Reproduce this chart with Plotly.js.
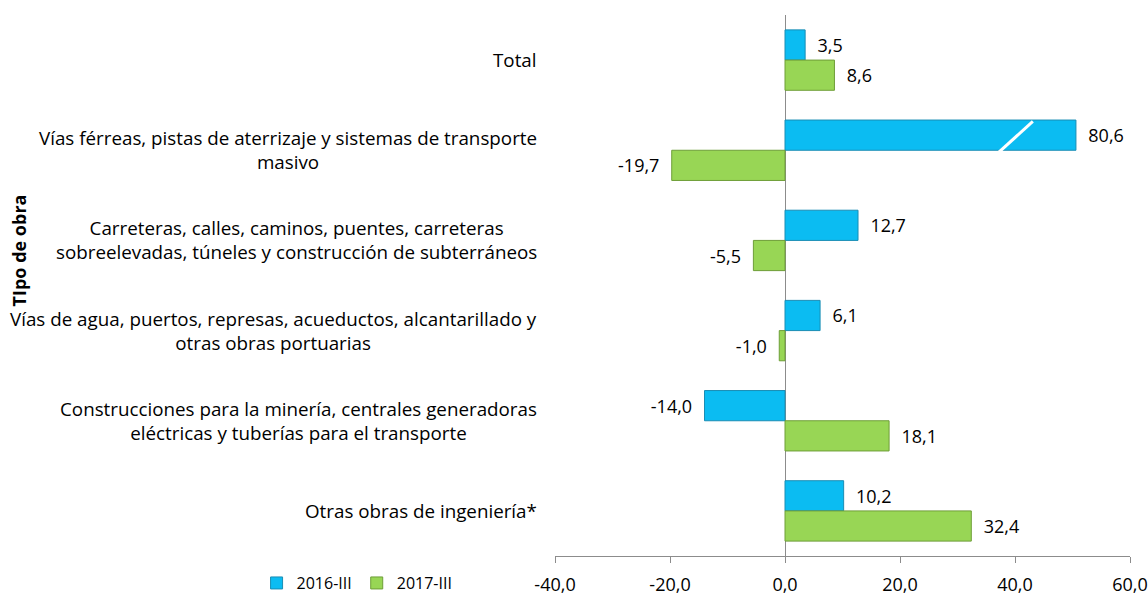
<!DOCTYPE html>
<html><head><meta charset="utf-8">
<script src="https://cdn.plot.ly/plotly-3.0.1.min.js"></script>
<style>body{margin:0;background:#fff}#chart{width:1148px;height:598px}</style>
</head><body><div id="chart"></div>
<script>
var categories = [
  'Total',
  'Vías férreas, pistas de aterrizaje y sistemas de transporte<br>masivo',
  'Carreteras, calles, caminos, puentes, carreteras<br>sobreelevadas, túneles y construcción de subterráneos',
  'Vías de agua, puertos, represas, acueductos, alcantarillado y<br>otras obras portuarias',
  'Construcciones para la minería, centrales generadoras<br>eléctricas y tuberías para el transporte',
  'Otras obras de ingeniería*'
];
var series2016 = [3.5, 80.6, 12.7, 6.1, -14.0, 10.2];
var series2017 = [8.6, -19.7, -5.5, -1.0, 18.1, 32.4];
var seriesNames = ['2016-III', '2017-III'];
var tickValues = [-40, -20, 0, 20, 40, 60];
var tickLabels = ['-40,0', '-20,0', '0,0', '20,0', '40,0', '60,0'];
var axisBreakStart = 55;   // values above this are drawn with a broken axis
var axisBreakGap = 30;     // amount removed by the break

function shown(v){ return v > axisBreakStart ? v - axisBreakGap : v; }
function lbl(v){
  var s = v.toFixed(1).replace('.', ',');
  return v < 0 ? s + '\u00a0\u00a0' : '\u00a0\u00a0' + s;
}
var ids = categories.map(function(c, i){ return 'c' + i; });

var font = '"Open Sans", sans-serif';
var fs = 18;
var t1 = {
  type: 'bar', orientation: 'h', name: seriesNames[0],
  y: ids, x: series2016.map(shown),
  text: series2016.map(lbl), textposition: 'outside', cliponaxis: false,
  textfont: {family: font, size: fs, color: '#000'},
  marker: {color: '#0BBCF2', line: {color: '#1A8DB4', width: 1}},
  hoverinfo: 'skip'
};
var t2 = {
  type: 'bar', orientation: 'h', name: seriesNames[1],
  y: ids, x: series2017.map(shown),
  text: series2017.map(lbl), textposition: 'outside', cliponaxis: false,
  textfont: {family: font, size: fs, color: '#000'},
  marker: {color: '#98D655', line: {color: '#6E9E38', width: 1}},
  hoverinfo: 'skip'
};

var annotations = categories.map(function(c, i){
  return {xref: 'paper', yref: 'y', x: 0, y: ids[i], xanchor: 'right', yanchor: 'middle',
    xshift: -16, align: 'center', showarrow: false, text: c,
    font: {family: font, size: 18.8, color: '#000'}};
});
annotations.push({xref: 'paper', yref: 'paper', x: -0.932, y: 0.565, xanchor: 'center', yanchor: 'middle',
  textangle: -90, showarrow: false, text: '<b>TIpo de obra</b>',
  font: {family: font, size: 18, color: '#000'}});

// axis break mark on the broken bar
var brokenIdx = series2016.findIndex(function(v){ return v > axisBreakStart; });
var shapes = [{type: 'line', xref: 'x', yref: 'y', x0: 36.2, x1: 43.1,
  y0: brokenIdx + 0.08, y1: brokenIdx - 0.32,
  line: {color: '#fff', width: 3}}];

var layout = {
  width: 1148, height: 598,
  margin: {l: 555, r: 18, t: 15, b: 42, autoexpand: false},
  paper_bgcolor: '#fff', plot_bgcolor: '#fff',
  barmode: 'group', bargap: 0.33, bargroupgap: 0,
  showlegend: true,
  legend: {orientation: 'h', x: -0.519, xanchor: 'left', y: -0.05, yanchor: 'middle',
    font: {family: font, size: 16, color: '#000'}, itemwidth: 30, traceorder: 'normal'},
  xaxis: {range: [-40, 60], tickvals: tickValues, ticktext: tickLabels, automargin: false,
    showgrid: false, zeroline: true, zerolinecolor: '#8c8c8c', zerolinewidth: 1,
    showline: true, linecolor: '#8c8c8c', linewidth: 1, ticks: 'outside', ticklen: 6,
    ticklabelstandoff: 6,
    tickcolor: '#8c8c8c', tickfont: {family: font, size: 18, color: '#000'}, fixedrange: true},
  yaxis: {autorange: 'reversed', showticklabels: false, showgrid: false, zeroline: false,
    showline: false, ticks: '', fixedrange: true, automargin: false},
  annotations: annotations,
  shapes: shapes
};
Plotly.newPlot('chart', [t1, t2], layout, {displayModeBar: false, staticPlot: true});
</script></body></html>
